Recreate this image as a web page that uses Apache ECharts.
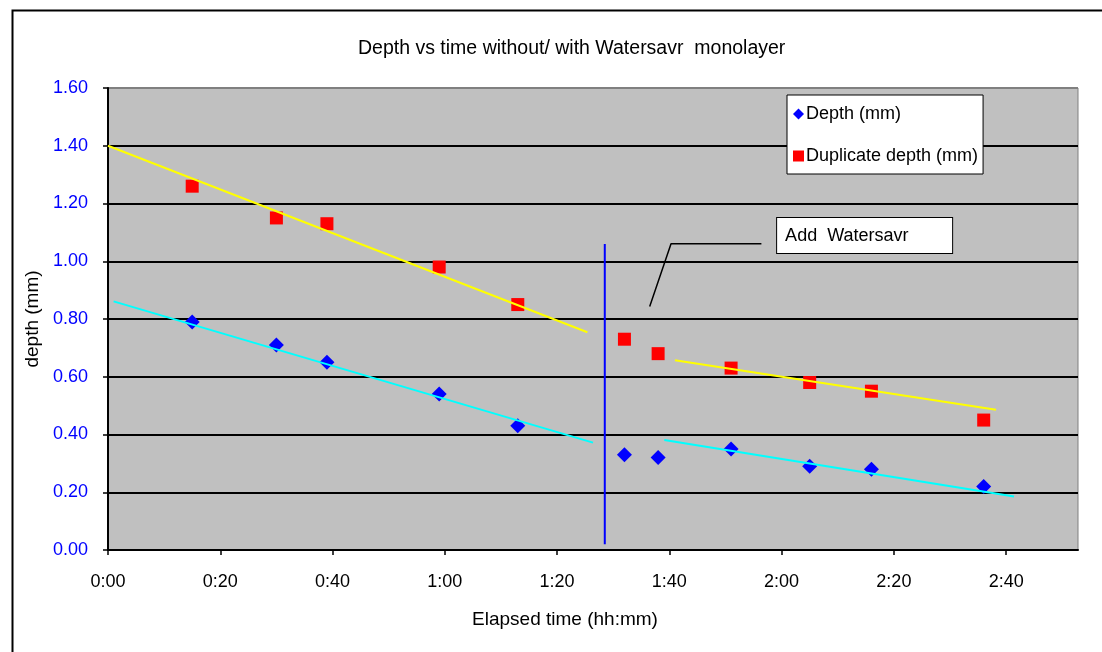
<!DOCTYPE html>
<html>
<head>
<meta charset="utf-8">
<script src="https://cdn.jsdelivr.net/npm/echarts@6/dist/echarts.min.js"></script>
<style>
  html, body { margin: 0; padding: 0; background: #fff; }
  #chart { width: 1102px; height: 652px; }
</style>
</head>
<body>
<div id="chart"></div>
<script>
// elapsed time in minutes
const times = [15, 30, 39, 59, 73, 92, 98, 111, 125, 136, 156];
const depth = [0.79, 0.71, 0.65, 0.54, 0.43, 0.33, 0.32, 0.35, 0.29, 0.28, 0.22];
const dupDepth = [1.26, 1.15, 1.13, 0.98, 0.85, 0.73, 0.68, 0.63, 0.58, 0.55, 0.45];

// trend line segments [minutes, depth]
const yellowBefore = [[0, 1.40], [85.4, 0.754]];
const yellowAfter = [[101.0, 0.657], [158.2, 0.486]];
const cyanBefore = [[1.0, 0.861], [86.4, 0.372]];
const cyanAfter = [[99.1, 0.381], [161.4, 0.185]];

// "Add Watersavr" marker line and callout
const addLine = [[88.5, 0.02], [88.5, 1.06]];
const calloutLeader = [[116.4, 1.061], [100.3, 1.061], [96.5, 0.843]];
const calloutAnchor = [119.2, 1.089];
const calloutText = 'Add  Watersavr';

const yTicks = [0, 0.2, 0.4, 0.6, 0.8, 1.0, 1.2, 1.4, 1.6];
const FONT = 'Arial, "Liberation Sans", sans-serif';

const chart = echarts.init(document.getElementById('chart'));

function fmtTime(m) {
  const h = Math.floor(m / 60);
  const mm = Math.round(m % 60);
  return h + ':' + (mm < 10 ? '0' + mm : mm);
}

// top gridline is the gray plot border, the rest are black
const splitColors = yTicks.map((v, i) => i === yTicks.length - 1 ? '#808080' : '#000');

chart.setOption({
  animation: false,
  backgroundColor: '#fff',
  title: {
    text: 'Depth vs time without/ with Watersavr  monolayer',
    left: 353,
    top: 34,
    textStyle: { fontFamily: FONT, fontSize: 19.5, fontWeight: 'normal', color: '#000' }
  },
  graphic: [{
    type: 'rect',
    left: 10, top: 8,
    shape: { width: 1200, height: 700 },
    style: { fill: 'none', stroke: '#000', lineWidth: 2 },
    silent: true,
    z: 100
  }],
  legend: {
    data: ['Depth (mm)', 'Duplicate depth (mm)'],
    orient: 'vertical',
    left: 787,
    top: 95,
    itemWidth: 11,
    itemHeight: 11,
    itemGap: 24,
    itemStyle: { borderWidth: 0, opacity: 1 },
    padding: [10, 5, 9, 6],
    backgroundColor: '#fff',
    borderColor: '#000',
    borderWidth: 1,
    textStyle: { fontFamily: FONT, fontSize: 18, color: '#000', padding: [0, 0, 0, -3] }
  },
  grid: {
    left: 108, right: 24, top: 88, bottom: 102,
    show: true,
    backgroundColor: '#C0C0C0',
    borderColor: '#808080',
    borderWidth: 1
  },
  xAxis: {
    type: 'value',
    min: 0,
    max: 172.8,
    interval: 20,
    name: 'Elapsed time (hh:mm)',
    nameLocation: 'middle',
    nameGap: 60,
    nameTextStyle: { fontFamily: FONT, fontSize: 19, color: '#000', padding: [0, 56, 0, 0] },
    axisLine: { lineStyle: { color: '#000', width: 2 } },
    axisTick: { inside: false, length: 5, lineStyle: { color: '#000', width: 1.5 } },
    axisLabel: {
      margin: 23, fontFamily: FONT, fontSize: 18, color: '#000',
      formatter: fmtTime,
      showMaxLabel: false
    },
    splitLine: { show: false }
  },
  yAxis: {
    type: 'value',
    min: 0,
    max: 1.6,
    interval: 0.2,
    name: 'depth (mm)',
    nameLocation: 'middle',
    nameGap: 66,
    nameRotate: 90,
    nameTextStyle: { fontFamily: FONT, fontSize: 19, color: '#000' },
    axisLine: { show: true, lineStyle: { color: '#000', width: 2 } },
    axisTick: { show: true, inside: false, length: 5, lineStyle: { color: '#000', width: 1.5 } },
    axisLabel: {
      margin: 20, fontFamily: FONT, fontSize: 18, color: '#0000FF',
      formatter: v => v.toFixed(2)
    },
    splitLine: { show: true, lineStyle: { color: splitColors, width: 2 } }
  },
  series: [
    {
      name: 'Depth (mm)',
      type: 'scatter',
      symbol: 'diamond',
      symbolSize: 15,
      itemStyle: { color: '#0000FF', opacity: 1 },
      data: times.map((t, i) => [t, depth[i]])
    },
    {
      name: 'Duplicate depth (mm)',
      type: 'scatter',
      symbol: 'rect',
      symbolSize: 13,
      itemStyle: { color: '#FF0000', opacity: 1 },
      data: times.map((t, i) => [t, dupDepth[i]])
    },
    {
      name: 'trend dup before',
      type: 'line', showSymbol: false, silent: true,
      lineStyle: { color: '#FFFF00', width: 2 },
      data: yellowBefore
    },
    {
      name: 'trend dup after',
      type: 'line', showSymbol: false, silent: true,
      lineStyle: { color: '#FFFF00', width: 2 },
      data: yellowAfter
    },
    {
      name: 'trend depth before',
      type: 'line', showSymbol: false, silent: true,
      lineStyle: { color: '#00FFFF', width: 2 },
      data: cyanBefore
    },
    {
      name: 'trend depth after',
      type: 'line', showSymbol: false, silent: true,
      lineStyle: { color: '#00FFFF', width: 2 },
      data: cyanAfter
    },
    {
      name: 'add line',
      type: 'line', showSymbol: false, silent: true,
      lineStyle: { color: '#0000FF', width: 2 },
      data: addLine
    },
    {
      name: 'callout leader',
      type: 'line', showSymbol: false, silent: true,
      lineStyle: { color: '#000', width: 1.5 },
      data: calloutLeader
    },
    {
      name: 'callout',
      type: 'scatter',
      symbolSize: 0,
      silent: true,
      itemStyle: { opacity: 1 },
      data: [calloutAnchor],
      label: {
        show: true,
        position: 'right',
        distance: 0,
        formatter: calloutText,
        fontFamily: FONT,
        fontSize: 18,
        color: '#000',
        backgroundColor: '#fff',
        borderColor: '#000',
        borderWidth: 1,
        padding: [7, 0, 7, 8],
        width: 167,
        lineHeight: 21,
        align: 'left'
      }
    }
  ]
});
</script>
</body>
</html>
